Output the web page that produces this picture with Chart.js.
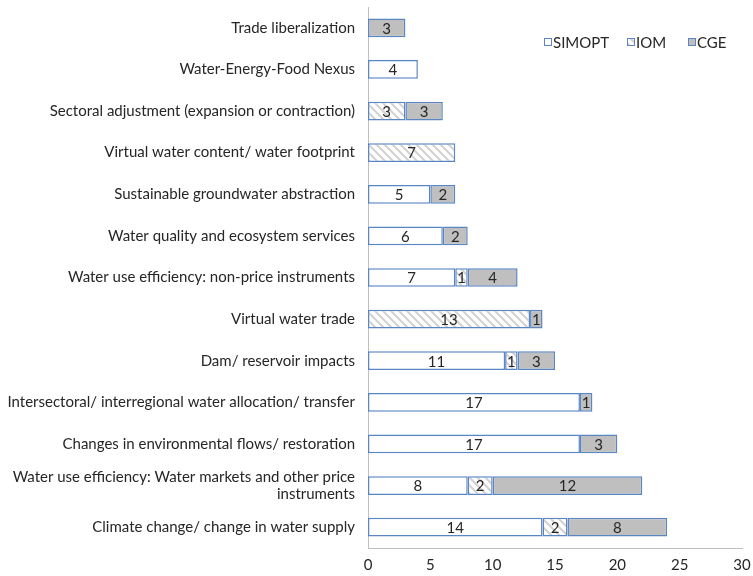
<!DOCTYPE html>
<html>
<head>
<meta charset="utf-8">
<script src="https://cdn.jsdelivr.net/npm/chart.js@4"></script>
<style>
  html, body { margin: 0; padding: 0; background: #ffffff; }
  #wrap { width: 753px; height: 576px; }
</style>
</head>
<body>
<div id="wrap"><canvas id="c" width="753" height="576"></canvas></div>
<script>
// Topics modelled, with the number of studies per model type
const categories = [
  'Trade liberalization',
  'Water-Energy-Food Nexus',
  'Sectoral adjustment (expansion or contraction)',
  'Virtual water content/ water footprint',
  'Sustainable groundwater abstraction',
  'Water quality and ecosystem services',
  'Water use efficiency: non-price instruments',
  'Virtual water trade',
  'Dam/ reservoir impacts',
  'Intersectoral/ interregional water allocation/ transfer',
  'Changes in environmental flows/ restoration',
  ['Water use efficiency: Water markets and other price', 'instruments'],
  'Climate change/ change in water supply'
];
const simopt = [null, 4, null, null, 5, 6, 7, null, 11, 17, 17, 8, 14];
const iom    = [null, null, 3, 7, null, null, 1, 13, 1, null, null, 2, 2];
const cge    = [3, null, 3, null, 2, 2, 4, 1, 3, 1, 3, 12, 8];
const xTicks = [0, 5, 10, 15, 20, 25, 30];

const FONT = 'Lato, "Open Sans", "DejaVu Sans", sans-serif';
const EDGE = '#5b86c4';
const AXIS = '#bfbfbf';
const TEXT = '#262626';

// diagonal hatch for the IOM series
function hatch() {
  const p = document.createElement('canvas');
  p.width = 8; p.height = 8;
  const g = p.getContext('2d');
  g.fillStyle = '#ffffff';
  g.fillRect(0, 0, 8, 8);
  g.strokeStyle = '#d2d2d2';
  g.lineWidth = 2;
  g.beginPath();
  g.moveTo(-2, -2); g.lineTo(10, 10);
  g.moveTo(-2, 6); g.lineTo(2, 10);
  g.moveTo(6, -2); g.lineTo(10, 2);
  g.stroke();
  return g.createPattern(p, 'repeat');
}
const ctx0 = document.getElementById('c').getContext('2d');
const hatchFill = hatch();

// value written in the middle of every segment
const segmentLabels = {
  id: 'segmentLabels',
  afterDatasetsDraw(chart) {
    const ctx = chart.ctx;
    ctx.save();
    ctx.font = '15px ' + FONT;
    ctx.fillStyle = TEXT;
    ctx.textAlign = 'center';
    ctx.textBaseline = 'middle';
    chart.data.datasets.forEach((ds, di) => {
      const meta = chart.getDatasetMeta(di);
      meta.data.forEach((bar, i) => {
        const v = ds.data[i];
        if (v == null) return;
        const cx = (bar.x + bar.base) / 2;
        ctx.fillText(String(v), cx, bar.y + 1);
      });
    });
    ctx.restore();
  }
};

// legend drawn inside the plot, top right
const innerLegend = {
  id: 'innerLegend',
  afterDraw(chart) {
    const ctx = chart.ctx;
    const xs = [544, 627, 688];
    const y = 42;
    ctx.save();
    ctx.font = '15px ' + FONT;
    ctx.textBaseline = 'middle';
    ctx.textAlign = 'left';
    chart.data.datasets.forEach((ds, i) => {
      const x = xs[i];
      ctx.fillStyle = ds.backgroundColor;
      ctx.fillRect(x, y - 3.5, 7, 7);
      ctx.strokeStyle = EDGE;
      ctx.lineWidth = 1;
      ctx.strokeRect(x + 0.5, y - 3.5, 7, 7);
      ctx.fillStyle = TEXT;
      ctx.fillText(ds.label, x + 9, y + 1);
    });
    ctx.restore();
  }
};

const series = [
  { label: 'SIMOPT', data: simopt, backgroundColor: '#ffffff' },
  { label: 'IOM', data: iom, backgroundColor: hatchFill },
  { label: 'CGE', data: cge, backgroundColor: '#bfbfbf' }
];

new Chart(ctx0, {
  type: 'bar',
  data: {
    labels: categories,
    datasets: series.map(s => ({
      label: s.label,
      data: s.data,
      backgroundColor: s.backgroundColor,
      borderColor: EDGE,
      borderWidth: 1.5,
      borderSkipped: false,
      barPercentage: 0.45,
      categoryPercentage: 1.0
    }))
  },
  options: {
    indexAxis: 'y',
    responsive: false,
    animation: false,
    events: [],
    layout: { padding: { top: 7, right: 11, bottom: 0, left: 0 } },
    plugins: {
      legend: { display: false },
      tooltip: { enabled: false }
    },
    scales: {
      x: {
        stacked: true,
        min: 0,
        max: 30,
        afterBuildTicks(axis) { axis.ticks = xTicks.map(v => ({ value: v })); },
        afterFit(axis) { axis.height = 28; axis.paddingLeft = 0; axis.paddingRight = 0; },
        grid: { display: false, drawTicks: false },
        border: { display: true, color: AXIS, width: 1 },
        ticks: { color: TEXT, font: { size: 15, family: FONT }, padding: 8 }
      },
      y: {
        stacked: true,
        afterFit(axis) { axis.width = 368; axis.paddingTop = 0; axis.paddingBottom = 0; },
        grid: { display: false, drawTicks: false },
        border: { display: true, color: AXIS, width: 1 },
        ticks: { color: TEXT, font: { size: 15, family: FONT, lineHeight: 1.15 }, padding: 13, autoSkip: false }
      }
    }
  },
  plugins: [segmentLabels, innerLegend]
});
</script>
</body>
</html>
